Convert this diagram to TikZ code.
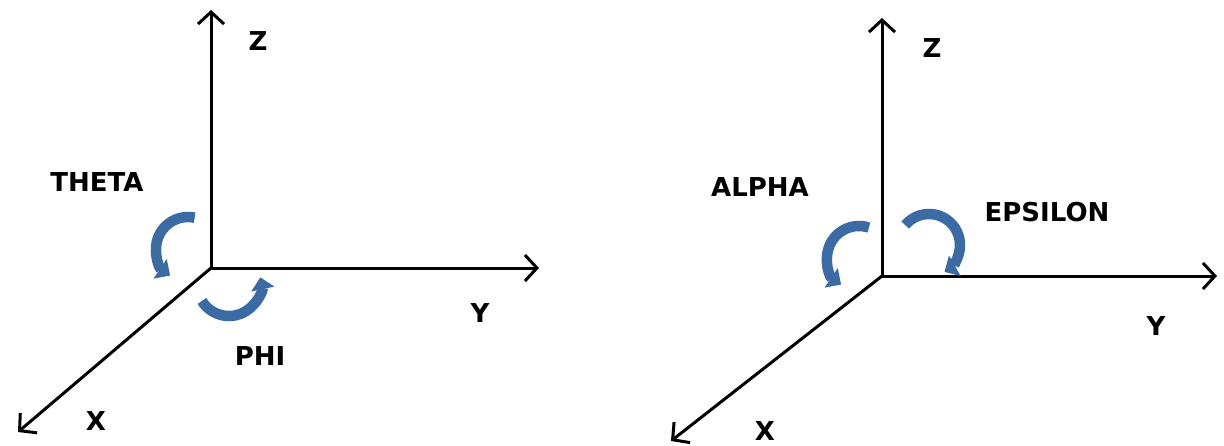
\documentclass[tikz,border=0pt]{standalone}
\usepackage{fontspec}
\setmainfont{DejaVu Sans}
\usetikzlibrary{arrows.meta}
\definecolor{rotblue}{RGB}{60,106,163}
\tikzset{
  axis/.style={line width=3pt, -{Straight Barb[length=12pt,width=26pt,line width=3pt]}},
  rot/.style={rotblue, line width=10.5pt, -{Triangle[length=12pt,width=23pt]}},
  lbl/.style={font=\bfseries\fontsize{26}{26}\selectfont, inner sep=0pt}
}
\begin{document}
\begin{tikzpicture}[x=1pt,y=-1pt]
\useasboundingbox (0,0) rectangle (1224,445);
% left system
\coordinate (O1) at (211,268);
\coordinate (Z1) at (211,10);
\coordinate (Y1) at (539,268);
\coordinate (X1) at (18,432);
\draw[axis] (O1) -- (Z1);
\draw[axis] (O1) -- (Y1);
\draw[axis] (O1) -- (X1);
\node[lbl] (zl1) at (258,41) {Z};
\node[lbl] (yl1) at (480,313) {Y};
\node[lbl] (xl1) at (96,421) {X};
\node[lbl] (theta) at (97,182) {THETA};
\node[lbl] (phi) at (260,356) {PHI};
% theta rotation arrow
\coordinate (tc) at (188,249);
\draw[rot] ([shift={(-78:32)}]tc) arc[start angle=-78,end angle=-236,radius=32];
% phi rotation arrow
\coordinate (pc) at (229,284);
\draw[rot] ([shift={(148:32)}]pc) arc[start angle=148,end angle=-12,radius=32];
% right system
\coordinate (O2) at (882,276);
\coordinate (Z2) at (882,18);
\coordinate (Y2) at (1217,276);
\coordinate (X2) at (671,441);
\draw[axis] (O2) -- (Z2);
\draw[axis] (O2) -- (Y2);
\draw[axis] (O2) -- (X2);
\node[lbl] (zl2) at (932,48) {Z};
\node[lbl] (yl2) at (1156,326) {Y};
\node[lbl] (xl2) at (765,431) {X};
\node[lbl] (alpha) at (760,187) {ALPHA};
\node[lbl] (eps) at (1047,212) {EPSILON};
% alpha rotation arrow
\coordinate (ac) at (859,258);
\draw[rot] ([shift={(-72:32)}]ac) arc[start angle=-72,end angle=-236,radius=32];
% epsilon rotation arrow
\coordinate (ec) at (929,245);
\draw[rot] ([shift={(-140:31)}]ec) arc[start angle=-140,end angle=60,radius=31];
\end{tikzpicture}
\end{document}
